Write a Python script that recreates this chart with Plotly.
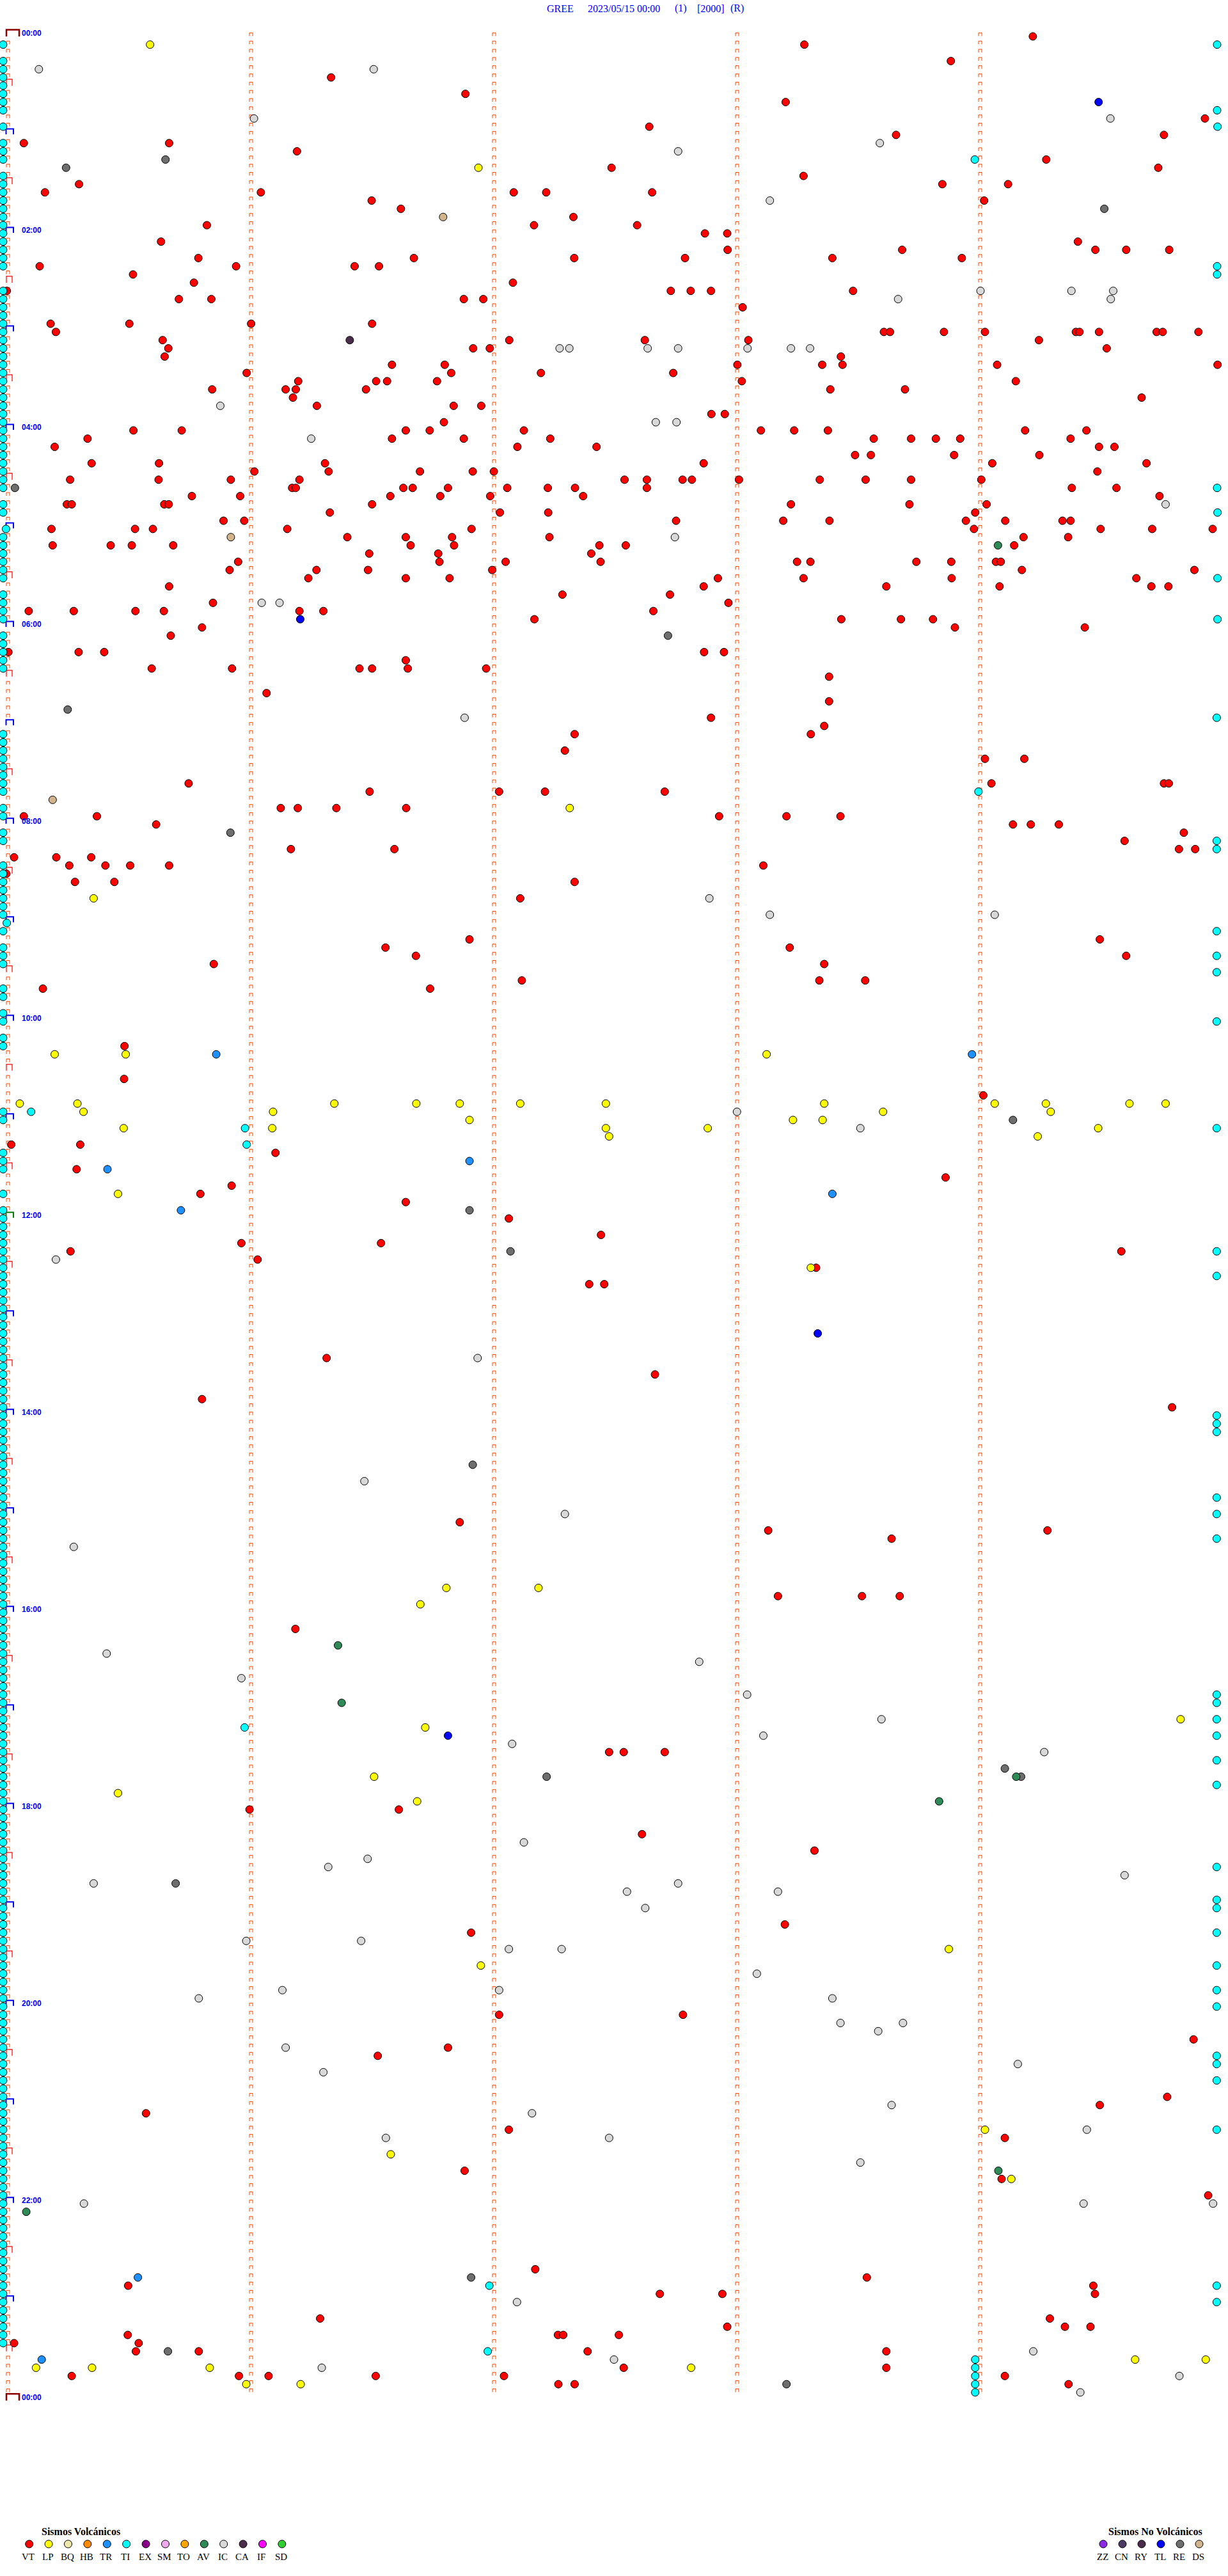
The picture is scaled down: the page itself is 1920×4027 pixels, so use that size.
import plotly.graph_objects as go

# ---------------- text ----------------
TITLE_PARTS = ["GREE", "2023/05/15 00:00", "(1)", "[2000]", "(R)"]
HOUR_LABELS = ["00:00", "02:00", "04:00", "06:00", "08:00", "10:00", "12:00",
               "14:00", "16:00", "18:00", "20:00", "22:00", "00:00"]
VOLC_TYPES = ["VT", "LP", "BQ", "HB", "TR", "TI", "EX", "SM", "TO", "AV", "IC", "CA", "IF", "SD"]
VOLC_COLORS = ["#FF0000", "#FFFF00", "#EEE8AA", "#FF8C00", "#1E90FF", "#00FFFF", "#8B008B",
               "#EEA9EE", "#FFA500", "#2E8B57", "#D8D8D8", "#4B2D4B", "#FF00FF", "#32CD32"]
NONVOLC_TYPES = ["ZZ", "CN", "RY", "TL", "RE", "DS"]
NONVOLC_COLORS = ["#8A2BE2", "#4B3A63", "#4B2D4B", "#0000FF", "#6E6E6E", "#D2B48C"]

N_SLOTS = 288          # 5-minute slots per day
SLOT_SECONDS = 300

# ---------------- events: (5-min slot index, seconds inside slot) ----------------
VT = [
    (5, 80.0), (13, 4.3), (13, 40.1), (14, 71.6), (18, 17.9), (19, 9.5), (19, 62.7), (20, 90.0), (21, 97.2),
    (23, 49.4), (25, 38.1), (27, 47.3), (28, 8.2), (28, 56.6), (28, 85.8), (28, 91.8), (29, 31.2), (30, 46.2),
    (31, 0.1), (32, 42.5), (32, 50.5), (35, 10.9), (35, 30.3), (35, 60.3), (35, 90.1), (36, 12.2), (37, 38.5),
    (38, 39.9), (39, 39.0), (40, 95.0), (41, 59.2), (42, 71.9), (42, 91.1), (42, 93.8), (43, 50.7), (43, 68.8),
    (43, 71.3), (43, 88.6), (44, 70.6), (45, 76.5), (48, 31.3), (48, 43.2), (48, 98.4), (49, 20.0), (49, 95.0),
    (50, 11.9), (52, 21.0), (52, 37.6), (52, 78.5), (53, 61.1), (53, 79.4), (54, 15.7), (54, 37.5), (54, 55.3),
    (54, 72.2), (55, 70.4), (55, 71.3), (55, 97.8), (56, 45.7), (56, 57.6), (56, 94.6), (57, 14.9), (57, 16.1),
    (57, 38.9), (57, 40.0), (57, 90.1), (58, 79.7), (59, 53.5), (59, 58.6), (60, 11.1), (60, 31.7), (60, 36.1),
    (60, 69.2), (61, 84.0), (61, 98.4), (62, 11.4), (62, 25.7), (62, 30.9), (62, 41.1), (63, 89.4), (64, 57.1),
    (65, 55.0), (65, 76.4), (65, 89.1), (66, 74.4), (66, 98.4), (67, 40.1), (69, 50.9), (70, 5.5), (70, 16.6),
    (70, 31.8), (70, 38.8), (70, 72.2), (70, 78.1), (72, 48.2),
    (1, 196.6), (7, 113.1), (8, 192.0), (11, 158.4), (16, 149.1), (17, 196.4), (19, 125.0), (19, 133.0),
    (19, 159.1), (22, 139.7), (23, 130.0), (23, 155.4), (24, 172.1), (24, 177.6), (26, 177.7), (27, 100.4),
    (27, 139.9), (27, 167.2), (30, 124.8), (31, 163.7), (31, 168.6), (31, 173.6), (32, 112.7), (32, 117.5),
    (33, 181.4), (37, 123.9), (37, 157.3), (37, 182.8), (38, 115.0), (38, 119.1), (40, 108.0), (40, 180.1),
    (41, 109.6), (41, 131.7), (41, 164.3), (42, 106.1), (42, 181.2), (45, 110.2), (45, 117.0), (46, 173.7),
    (46, 177.0), (47, 107.8), (48, 104.3), (48, 127.5), (48, 185.9), (48, 194.1), (49, 112.7), (49, 134.0),
    (50, 125.9), (50, 145.4), (52, 171.8), (53, 101.9), (53, 114.9), (53, 120.1), (54, 152.3), (54, 157.8),
    (54, 166.6), (54, 168.9), (54, 180.5), (55, 100.1), (55, 108.8), (55, 123.4), (55, 133.4), (55, 140.1),
    (55, 157.8), (56, 106.9), (56, 119.2), (56, 142.1), (57, 193.3), (58, 121.6), (58, 133.5), (59, 165.0),
    (59, 191.4), (60, 114.6), (61, 109.8), (61, 133.8), (62, 99.6), (62, 110.3), (62, 146.1), (62, 152.6),
    (63, 106.4), (63, 144.1), (64, 106.7), (64, 123.0), (64, 146.4), (64, 194.8), (64, 198.1), (65, 119.7),
    (66, 109.2), (66, 175.3), (66, 196.4), (67, 171.8), (68, 137.0), (68, 163.5), (69, 177.9), (70, 159.4),
    (71, 130.1),
    (0, 252.9), (3, 232.7), (10, 295.3), (12, 219.2), (12, 285.2), (15, 256.2), (16, 283.8), (18, 230.6),
    (18, 246.8), (20, 240.9), (25, 264.0), (26, 220.7), (26, 268.3), (26, 275.9), (26, 286.5), (27, 203.5),
    (27, 235.4), (31, 208.6), (36, 216.2), (36, 217.7), (36, 231.0), (36, 241.1), (36, 263.5), (36, 264.4),
    (36, 269.2), (36, 283.4), (36, 284.9), (36, 293.7), (37, 254.4), (38, 271.1), (39, 205.6), (40, 201.0),
    (40, 206.0), (40, 244.1), (40, 298.4), (42, 248.7), (43, 203.0), (43, 221.4), (44, 279.7), (48, 202.4),
    (48, 251.0), (48, 266.1), (49, 213.7), (49, 222.9), (49, 229.0), (49, 235.0), (49, 262.2), (50, 269.2),
    (50, 273.0), (51, 209.1), (51, 213.0), (51, 233.5), (51, 254.5), (52, 242.9), (52, 280.9), (53, 268.8),
    (54, 200.4), (54, 211.7), (54, 222.9), (54, 240.2), (55, 262.5), (55, 273.5), (56, 284.1), (57, 222.5),
    (57, 241.5), (58, 238.7), (59, 202.8), (59, 236.4), (59, 246.1), (59, 260.2), (59, 262.2), (60, 238.4),
    (60, 269.6), (60, 282.3), (60, 297.2), (61, 250.6), (61, 261.6), (62, 248.3), (64, 224.2), (64, 232.8),
    (64, 243.8), (64, 245.0), (65, 250.2), (65, 292.7), (66, 232.9), (66, 278.4), (67, 216.8), (67, 244.7),
    (67, 282.1), (67, 286.3), (71, 205.7), (71, 220.4), (71, 228.3),
    (73, 40.5), (75, 0.5), (75, 17.8), (75, 24.1), (76, 98.4), (77, 35.8), (77, 55.6), (77, 87.0), (77, 90.1),
    (77, 98.9), (80, 64.1), (91, 44.9), (92, 89.5), (94, 67.6), (94, 71.8), (94, 81.3), (94, 98.5), (95, 4.3),
    (95, 22.3), (96, 36.9), (99, 70.1), (99, 95.6), (100, 1.9), (100, 12.3), (100, 20.9), (101, 15.5),
    (101, 24.4), (101, 30.5), (101, 40.1), (102, 0.0), (103, 16.9), (103, 26.6), (111, 93.4), (112, 100.9),
    (113, 51.1), (116, 9.0), (123, 29.1), (127, 29.0), (135, 1.2), (135, 18.2), (136, 66.3), (138, 17.3),
    (140, 55.5), (141, 47.8), (142, 98.4),
    (72, 233.7), (72, 265.7), (75, 171.9), (75, 176.8), (77, 118.2), (78, 202.7), (81, 202.7), (83, 173.6),
    (84, 201.5), (85, 198.2), (85, 140.0), (87, 137.6), (88, 241.1), (88, 250.8), (91, 242.7), (91, 285.2),
    (91, 286.4), (92, 162.2), (92, 121.4), (92, 132.7), (95, 175.6), (95, 192.2), (95, 205.5), (96, 248.0),
    (96, 252.4), (96, 259.3), (97, 290.1), (98, 275.5), (99, 288.9), (99, 292.9), (101, 186.5), (103, 140.0),
    (105, 126.6), (110, 114.1), (110, 269.4), (111, 193.0), (112, 275.9), (113, 201.5), (115, 211.6),
    (115, 200.3), (115, 127.0), (116, 104.4), (129, 240.7), (139, 231.4),
    (144, 123.8), (148, 274.7), (150, 199.5), (146, 146.5), (147, 92.3), (147, 57.9), (149, 61.9), (148, 15.8),
    (152, 143.6), (152, 147.3), (161, 78.9), (163, 159.8), (166, 48.2), (167, 287.2), (181, 111.7),
    (182, 187.7), (183, 218.1), (182, 256.5), (190, 190.1), (190, 210.8), (190, 220.1), (194, 71.2),
    (209, 148.5), (209, 152.1), (209, 162.2), (216, 96.7), (216, 59.9), (219, 156.6), (221, 199.1),
    (230, 191.8), (231, 114.5), (241, 166.7), (241, 121.4), (246, 91.5), (245, 108.8), (244, 292.5),
    (253, 34.4), (251, 286.0), (252, 269.4), (255, 123.8), (256, 246.0), (260, 112.9), (261, 245.2),
    (263, 296.1), (272, 130.3), (274, 30.0), (275, 161.0), (275, 176.4), (273, 212.0), (274, 267.8),
    (275, 268.2), (278, 77.3), (280, 135.9), (280, 137.2), (280, 150.9), (279, 177.6), (280, 29.9), (281, 1.9),
    (281, 32.6), (282, 31.9), (282, 47.4), (285, 16.1), (285, 57.3), (285, 64.6), (278, 257.1), (279, 260.8),
    (279, 267.1), (285, 246.0), (286, 261.7), (282, 143.2), (282, 216.8), (284, 152.1), (285, 122.6),
    (286, 136.0), (286, 140.0), (284, 216.8), (285, 91.0),
]
LP = [(1, 35.4), (16, 116.3), (105, 21.5), (124, 11.9), (124, 29.4), (130, 3.3), (130, 17.5), (130, 80.8),
      (130, 101.0), (131, 19.0), (131, 65.7), (133, 28.9), (133, 65.5), (141, 27.5),
      (94, 138.8), (124, 187.3), (130, 243.5), (130, 256.1), (130, 276.7), (130, 285.6), (131, 257.3),
      (134, 254.1), (133, 269.0), (130, 201.5), (131, 216.0), (132, 193.8), (132, 201.1), (133, 172.8),
      (130, 147.7), (133, 147.7), (134, 148.5), (130, 126.6), (130, 111.7), (132, 114.1),
      (150, 198.2), (189, 131.1), (189, 108.4), (191, 102.0), (205, 289.3), (206, 103.2), (212, 90.6),
      (214, 27.5), (215, 101.2), (233, 232.2), (235, 116.9), (255, 241.1), (258, 94.7), (261, 247.6),
      (283, 278.1), (283, 295.5), (284, 168.7), (284, 7.3), (284, 21.1), (284, 50.1), (286, 59.1), (286, 72.5)]
TI_START = [1, 3, 4, 5, 6, 7, 8, 9, 11, 13, 14, 15] + list(range(17, 29)) + list(range(31, 56)) + \
           [57, 58, 61, 62, 63, 64, 65, 66, 68, 69, 70, 71, 73, 74, 75, 76, 77, 85, 86, 87, 88, 89, 90, 91, 92,
            94, 95, 97, 98, 101, 102, 103, 104, 105, 106, 107, 109, 111, 112, 113, 116, 117, 119, 120, 122, 123,
            131, 132, 136, 137, 138, 141, 143] + list(range(144, 282))
TI_OTHER = [(60, -0.1), (108, 0.1), (1, 298.3), (9, 298.3), (11, 298.4), (28, 298.3), (29, 298.3), (55, 298.3),
            (58, 298.4), (66, 298.4), (71, 298.4), (15, 238.6), (131, 6.1), (133, 58.8), (135, 59.2),
            (83, 298.2), (98, 298.2), (99, 298.2), (109, 298.2), (112, 298.2), (114, 298.2), (120, 298.2),
            (133, 298.2), (92, 239.5), (148, 298.2), (151, 298.2), (168, 298.2), (169, 298.2), (170, 298.2),
            (178, 298.2), (180, 298.2), (183, 298.2), (202, 298.2), (203, 298.2), (205, 298.2), (207, 298.2),
            (210, 298.2), (213, 298.2), (223, 298.2), (227, 298.2), (228, 298.2), (231, 298.2), (235, 298.2),
            (238, 298.2), (240, 298.2), (246, 298.2), (247, 298.2), (249, 298.2), (255, 298.2), (274, 298.2),
            (276, 298.2), (206, 58.7), (274, 119.0), (282, 118.6), (283, 238.7), (284, 238.7), (285, 238.7),
            (286, 238.7), (287, 238.7)]
TR = [(124, 51.7), (138, 24.9), (143, 43.0), (124, 237.9), (137, 114.1), (141, 203.5), (273, 32.4), (283, 8.7)]
IC = [(4, 8.0), (4, 90.5), (10, 61.0), (45, 52.7), (49, 75.1), (69, 62.9), (69, 67.3), (14, 165.5), (20, 188.1),
      (38, 136.3), (38, 138.7), (38, 158.0), (38, 165.5), (38, 182.6), (38, 193.3), (38, 198.0), (47, 160.0),
      (47, 165.1), (61, 164.7), (10, 272.0), (13, 215.2), (31, 240.0), (31, 262.4), (31, 272.7), (32, 219.7),
      (32, 272.1), (57, 285.6),
      (83, 112.9), (105, 173.2), (107, 188.1), (107, 243.5), (131, 180.0), (133, 210.4),
      (149, 12.2), (161, 116.1), (176, 88.2), (180, 137.6), (184, 16.6), (197, 24.7), (198, 170.7), (200, 57.9),
      (202, 182.5), (205, 215.6), (207, 186.5), (208, 124.6), (209, 255.7), (220, 127.5), (222, 89.0),
      (223, 79.3), (225, 21.5), (226, 152.9), (225, 165.5), (226, 190.1), (224, 275.5), (228, 157.4),
      (232, 59.1), (232, 87.4), (233, 123.8), (233, 136.8), (236, 184.9), (238, 121.4), (239, 203.5),
      (239, 47.4), (238, 68.0), (242, 205.5), (243, 214.8), (242, 220.9), (245, 68.8), (248, 78.1),
      (247, 249.2), (253, 129.5), (252, 218.1), (255, 266.2), (256, 93.5), (256, 148.5), (259, 210.4),
      (264, 19.1), (264, 265.4), (264, 297.3), (276, 125.8), (283, 149.7), (284, 77.7), (282, 253.0),
      (285, 289.0), (287, 264.6)]
RE = [(15, 39.2), (16, 14.7), (55, 2.1), (21, 270.5), (82, 15.1), (97, 55.2), (73, 163.0), (132, 248.0),
      (143, 114.1), (148, 124.2), (174, 114.9), (211, 246.0), (212, 250.0), (212, 133.1), (225, 41.7),
      (273, 114.5), (286, 192.2), (282, 39.8)]
DS = [(61, 55.3), (22, 107.6), (93, 11.4)]
TL = [(71, 72.4), (8, 269.1), (158, 199.9), (207, 108.8)]
CA = [(37, 84.6)]
AV = [(62, 244.3), (196, 81.7), (203, 82.6), (212, 248.8), (215, 229.8), (260, 244.4), (265, 4.9)]

TI = [(s, -0.8) for s in TI_START] + TI_OTHER
EVENTS = {"VT": VT, "LP": LP, "TI": TI, "TR": TR, "IC": IC, "RE": RE, "DS": DS, "TL": TL, "CA": CA, "AV": AV}
COLOR = dict(zip(VOLC_TYPES + NONVOLC_TYPES, VOLC_COLORS + NONVOLC_COLORS))

# ---------------- geometry (page pixels) ----------------
W, H = 1920, 4027
X0, SX = 10.0, 6.346      # pixel of second 0, pixels per second
Y0, SY = 56.9, 12.833     # pixel of slot 0 centre, pixels per slot


def xd(px):
    return (px - X0) / SX


def yd(py):
    return (py - Y0) / SY


def add_bracket(xs, ys, left, right, top, bottom):
    xs += [xd(left), xd(left), xd(right), xd(right), None]
    ys += [yd(bottom), yd(top), yd(top), yd(bottom), None]


fig = go.Figure()

sx, sy = [], []
half_x, half_y = [], []
hour_x, hour_y = [], []
noon_x, noon_y = [], []
day_x, day_y = [], []
for j in range(N_SLOTS + 1):
    cy = Y0 + SY * j
    if j % 288 == 0:
        add_bracket(day_x, day_y, 10, 30, cy - 10.5, cy)
    elif j == 144:
        add_bracket(noon_x, noon_y, 9.5, 21, cy - 9.5, cy - 1)
    elif j % 12 == 0:
        add_bracket(hour_x, hour_y, 9.5, 21, cy - 9.5, cy - 1)
    elif j % 6 == 0:
        add_bracket(half_x, half_y, 10, 19, cy - 10, cy)
    elif j < N_SLOTS:
        add_bracket(sx, sy, 10, 15, cy - 5.5, cy - 0.5)
    if j < N_SLOTS:
        for m in range(1, 5):
            left = X0 + 380 * m
            add_bracket(sx, sy, left, left + 5, cy - 5.5, cy - 0.5)

for bx, by, col, wd in [(sx, sy, "#FF4500", 1), (half_x, half_y, "#FF0000", 1.2),
                        (hour_x, hour_y, "#0000FF", 2), (noon_x, noon_y, "#008000", 2),
                        (day_x, day_y, "#8B0000", 2.5)]:
    fig.add_trace(go.Scatter(x=bx, y=by, mode="lines", line=dict(color=col, width=wd),
                             hoverinfo="skip", showlegend=False))

for name, pts in EVENTS.items():
    fig.add_trace(go.Scatter(
        x=[p[1] for p in pts], y=[p[0] for p in pts], mode="markers", name=name,
        marker=dict(size=12, color=COLOR[name], line=dict(color="#000000", width=1)),
        showlegend=False))

LEG_Y = 3977
leg_x = [45.7 + 30.4 * i for i in range(len(VOLC_TYPES))] + [1725 + 30 * i for i in range(len(NONVOLC_TYPES))]
fig.add_trace(go.Scatter(
    x=[xd(v) for v in leg_x], y=[yd(LEG_Y)] * len(leg_x), mode="markers",
    marker=dict(size=12, color=VOLC_COLORS + NONVOLC_COLORS, line=dict(color="#000000", width=1)),
    hoverinfo="skip", showlegend=False))

ann = []


def text(px, py, s, size, color, family, anchor="center"):
    ann.append(dict(x=px / W, y=1 - py / H, xref="paper", yref="paper", text=s, showarrow=False,
                    xanchor=anchor, yanchor="middle", font=dict(size=size, color=color, family=family)))


for s, cx in zip(TITLE_PARTS, [876, 975, 1064.5, 1111, 1152]):
    text(cx, 13, s, 16, "#0000FF", "Liberation Serif")

for i, lab in enumerate(HOUR_LABELS):
    cy = Y0 + SY * 24 * i
    text(32, cy - 5, "<b>%s</b>" % lab, 12, "#0000FF", "Liberation Sans", anchor="left")

for lab, cx in zip(VOLC_TYPES + NONVOLC_TYPES, leg_x):
    text(cx - 1.5, 3997, lab, 15, "#000000", "Liberation Serif")
text(126, 3957, "<b>Sismos Volcánicos</b>", 16, "#000000", "Liberation Serif")
text(1806, 3957, "<b>Sismos No Volcánicos</b>", 16, "#000000", "Liberation Serif")

fig.update_layout(
    width=W, height=H, margin=dict(l=0, r=0, t=0, b=0, pad=0),
    paper_bgcolor="#FFFFFF", plot_bgcolor="#FFFFFF", showlegend=False,
    xaxis=dict(range=[xd(0), xd(W)], visible=False, fixedrange=True),
    yaxis=dict(range=[yd(H), yd(0)], visible=False, fixedrange=True),
    annotations=ann,
)

fig.write_html("out.html", config={"displayModeBar": False},
               post_script="document.body.style.margin='0';document.body.style.overflow='hidden';")
